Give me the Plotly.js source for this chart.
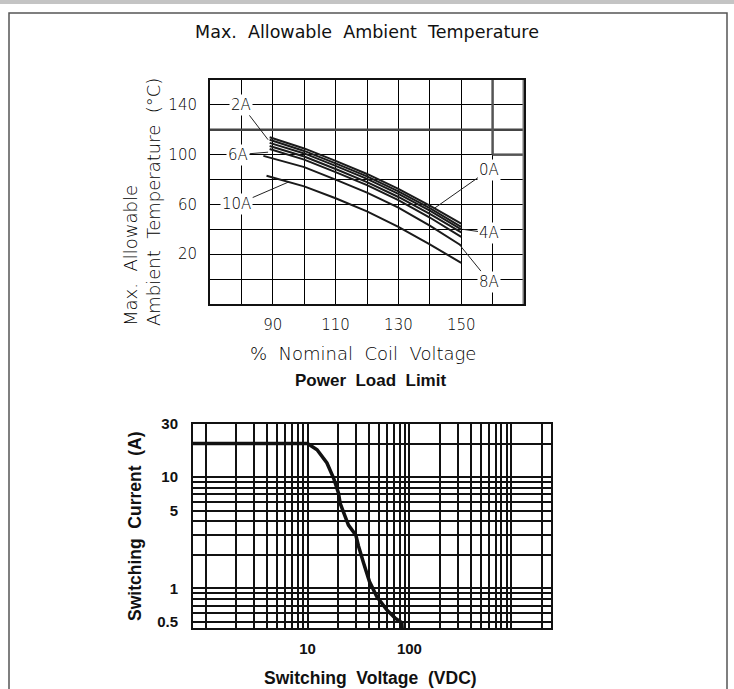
<!DOCTYPE html>
<html>
<head>
<meta charset="utf-8">
<script src="https://cdn.plot.ly/plotly-3.0.1.min.js"></script>
<style>html,body{margin:0;padding:0;background:#fff;}#chart{width:734px;height:689px;}</style>
</head>
<body>
<div id="chart"></div>
<script>
// ---------- Top chart: Max. Allowable Ambient Temperature ----------
const coilX   = [89, 100, 110, 120, 130, 140, 150];
const temp0A  = [114, 105, 95, 84.5, 72.5, 59, 44.5];
const temp2A  = [112, 103, 93, 82.5, 70.5, 57, 42];
const temp4A  = [109.5, 101, 91, 80.5, 68.5, 55, 40];
const temp4Ab = [107, 98.5, 88.5, 78, 66, 52.5, 37.5];
const temp6A  = [104.5, 96, 86, 75.5, 63.5, 49.5, 34];
const coilX8  = [87, 100, 110, 120, 130, 140, 150];
const temp8A  = [99, 90, 80, 69.5, 57.5, 43, 27];
const coilX10 = [88, 100, 110, 120, 130, 140, 150];
const temp10A = [83, 74.5, 65, 54.5, 42, 28, 13];

const topXTicks = [70, 80, 90, 100, 110, 120, 130, 140, 150, 160, 170];
const topXText  = ['', '', '90', '', '110', '', '130', '', '150', '', ''];
const topYTicks = [-20, 0, 20, 40, 60, 80, 100, 120, 140, 160];
const topYText  = ['', '', '20', '', '60', '', '100', '', '140', ''];

// ---------- Bottom chart: Power Load Limit ----------
const voltageVDC = [0.7, 10, 12.4, 15.5, 18, 20.1, 20.9, 22.6, 25.2, 29.8, 31.6, 35.4, 40.5, 47.9, 60, 72.4, 84.2, 85];
const currentA   = [20, 20, 17.6, 13.4, 9.8, 7.2, 5.8, 4.7, 3.7, 3.0, 2.4, 1.7, 1.15, 0.84, 0.64, 0.54, 0.49, 0.42];

const botXTicks = [1,2,3,4,5,6,7,8,9,10,20,30,40,50,60,70,80,90,100,200,300,400,500,600,700,800,900,1000,2000];
const botXText  = botXTicks.map(v => (v === 10 || v === 100) ? String(v) : '');
const botYTicks = [0.5,0.6,0.7,0.8,0.9,1,2,3,4,5,6,7,8,9,10,20,30];
const botYLabels = {0.5:'0.5', 1:'1', 5:'5', 10:'10', 30:'30'};
const botYText  = botYTicks.map(v => botYLabels[v] || '');

const thinFont = {family: 'DejaVu Sans', size: 15, color: '#000', weight: 200};
const boldFont = {family: 'Liberation Sans, Arial, sans-serif', size: 15, color: '#111', weight: 'bold'};
const W = 734, H = 689;
const px = x => x / W;
const py = y => 1 - y / H;

const lineStyle = {color: '#1a1a1a', width: 2};
const mk = (x, y, name) => ({x, y, name, type: 'scatter', mode: 'lines', line: lineStyle, xaxis: 'x', yaxis: 'y', hoverinfo: 'skip'});

const data = [
  mk(coilX, temp0A, '0A'),
  mk(coilX, temp2A, '2A'),
  mk(coilX, temp4A, '4A'),
  mk(coilX, temp4Ab, '4A-b'),
  mk(coilX, temp6A, '6A'),
  mk(coilX8, temp8A, '8A'),
  mk(coilX10, temp10A, '10A'),
  {x: voltageVDC, y: currentA, type: 'scatter', mode: 'lines', line: {color: '#111', width: 3.5}, xaxis: 'x2', yaxis: 'y2', hoverinfo: 'skip', name: 'limit'}
];

const gridCommon = {showgrid: true, gridcolor: '#000', gridwidth: 1, zeroline: false, showline: true, linecolor: '#111', linewidth: 2, mirror: true, ticks: '', fixedrange: true};

const leader = (text, x, y, ax, ay) => ({
  xref: 'x', yref: 'y', axref: 'x', ayref: 'y', x, y, ax, ay, text,
  showarrow: true, arrowhead: 0, arrowwidth: 1, arrowcolor: '#222', standoff: 0, startstandoff: 0,
  font: thinFont, bgcolor: '#fff', borderpad: 1
});

const layout = {
  width: W, height: H,
  margin: {l: 0, r: 0, t: 0, b: 0, autoexpand: false},
  paper_bgcolor: '#fff', plot_bgcolor: '#fff', showlegend: false,
  title: {text: 'Max.\u00a0 Allowable\u00a0 Ambient\u00a0 Temperature', x: 0.5, xanchor: 'center', y: py(32), yanchor: 'middle', font: {family: 'DejaVu Sans', size: 17.5, color: '#111', weight: 'normal'}},
  xaxis: Object.assign({}, gridCommon, {domain: [px(210), px(524)], range: [70, 170], tickmode: 'array', tickvals: topXTicks, ticktext: topXText, tickfont: thinFont, anchor: 'y', ticklabelstandoff: 6}),
  yaxis: Object.assign({}, gridCommon, {domain: [py(304), py(80)], range: [-20, 160], tickmode: 'array', tickvals: topYTicks, ticktext: topYText, tickfont: thinFont, anchor: 'x', ticklabelstandoff: 8}),
  xaxis2: Object.assign({}, gridCommon, {type: 'log', domain: [px(193), px(551)], range: [-0.124, 3.389], tickmode: 'array', tickvals: botXTicks, ticktext: botXText, tickfont: boldFont, anchor: 'y2', gridwidth: 2, gridcolor: '#111', ticklabelstandoff: 6}),
  yaxis2: Object.assign({}, gridCommon, {type: 'log', domain: [py(628), py(424)], range: [Math.log10(0.44), Math.log10(30)], tickmode: 'array', tickvals: botYTicks, ticktext: botYText, tickfont: boldFont, anchor: 'x2', gridwidth: 2, gridcolor: '#111', ticklabelstandoff: 10}),
  shapes: [
    {type: 'rect', xref: 'paper', yref: 'paper', x0: 0, x1: 1, y0: py(4), y1: 1, fillcolor: '#c4c4c4', line: {width: 0}, layer: 'below'},
    {type: 'rect', xref: 'paper', yref: 'paper', x0: px(9), x1: px(727), y0: -0.05, y1: py(13), line: {color: '#555', width: 1.5}, fillcolor: 'rgba(0,0,0,0)'},
    {type: 'line', xref: 'x', yref: 'y', x0: 70, x1: 170, y0: 120, y1: 120, line: {color: '#444', width: 2.5}},
    {type: 'line', xref: 'x', yref: 'y', x0: 160, x1: 160, y0: 100, y1: 160, line: {color: '#555', width: 2.5}},
    {type: 'line', xref: 'x', yref: 'y', x0: 160, x1: 170, y0: 100, y1: 100, line: {color: '#555', width: 2.5}},
    {type: 'line', xref: 'x', yref: 'y', x0: 170, x1: 170, y0: -20, y1: 160, line: {color: '#777', width: 3}}
  ],
  annotations: [
    leader('2A', 88.5, 112, 80, 140),
    leader('6A', 88.5, 102, 79, 100),
    leader('10A', 95, 78, 78.5, 60),
    leader('0A', 141.5, 57, 159, 88),
    leader('4A', 150.5, 40, 159, 37),
    leader('8A', 149.5, 27.5, 159, -2),
    {xref: 'paper', yref: 'paper', x: px(142), y: py(328), xanchor: 'center', yanchor: 'bottom', textangle: -90, align: 'left', showarrow: false,
     text: 'Max.\u00a0 Allowable<br>Ambient\u00a0 Temperature\u00a0 (°C)', font: {family: 'DejaVu Sans', size: 18, color: '#000', weight: 200}},
    {xref: 'paper', yref: 'paper', x: px(363), y: py(353), xanchor: 'center', yanchor: 'middle', showarrow: false,
     text: '%\u00a0 Nominal\u00a0 Coil\u00a0 Voltage', font: {family: 'DejaVu Sans', size: 18, color: '#000', weight: 200}},
    {xref: 'paper', yref: 'paper', x: px(370), y: py(380), xanchor: 'center', yanchor: 'middle', showarrow: false,
     text: 'Power\u00a0 Load\u00a0 Limit', font: {family: 'Liberation Sans, Arial, sans-serif', size: 17, color: '#111', weight: 'bold'}},
    {xref: 'paper', yref: 'paper', x: px(135), y: py(526), xanchor: 'center', yanchor: 'middle', textangle: -90, showarrow: false,
     text: 'Switching\u00a0 Current\u00a0 (A)', font: {family: 'Liberation Sans, Arial, sans-serif', size: 17.5, color: '#111', weight: 'bold'}},
    {xref: 'paper', yref: 'paper', x: px(370), y: py(678), xanchor: 'center', yanchor: 'middle', showarrow: false,
     text: 'Switching\u00a0 Voltage\u00a0 (VDC)', font: {family: 'Liberation Sans, Arial, sans-serif', size: 17.5, color: '#111', weight: 'bold'}}
  ]
};

Plotly.newPlot('chart', data, layout, {staticPlot: true, displayModeBar: false});
</script>
</body>
</html>
